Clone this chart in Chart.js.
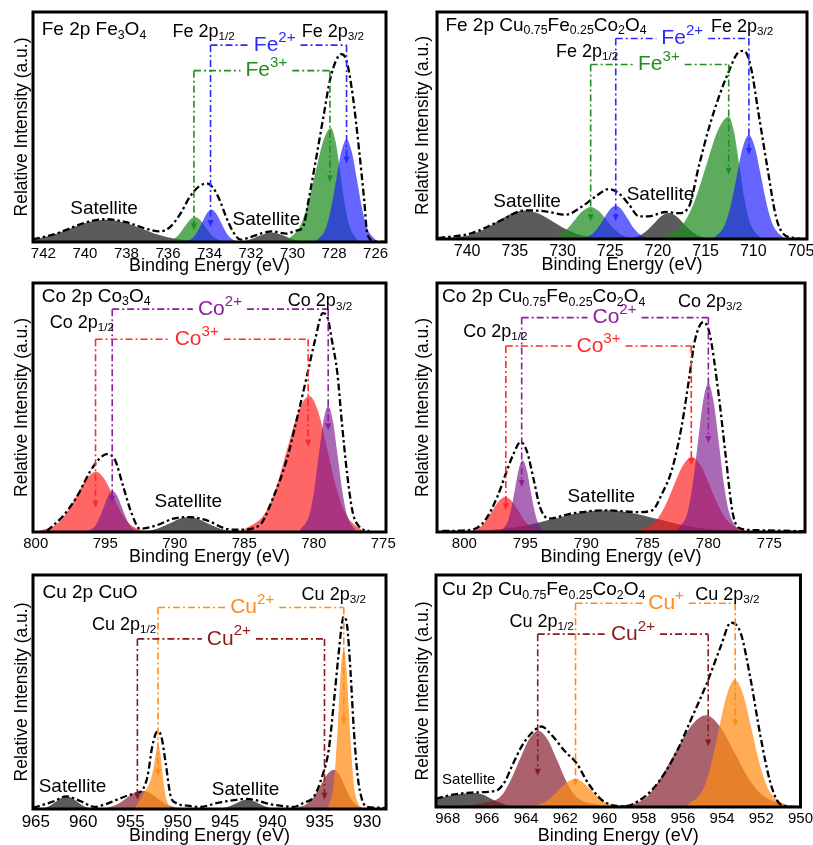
<!DOCTYPE html>
<html lang="en">
<head>
<meta charset="UTF-8" />
<title>XPS Fe 2p / Co 2p / Cu 2p</title>
<script src="https://cdn.jsdelivr.net/npm/chart.js@4.4.0/dist/chart.umd.min.js"></script>
<style>
  html, body { margin: 0; padding: 0; background: #fff; overflow: hidden; }
  body { width: 813px; height: 845px; position: relative; }
  canvas { position: absolute; }
</style>
</head>
<body>
<script>
// ---- Fe 2p, Fe3O4 ----
const fe3o4SatAE = [744.1, 742.4, 741.55, 740.7, 739.85, 739.0, 738.15, 737.3, 736.45, 735.6, 733.9];
const fe3o4SatAI = [0, 1.3, 3.15, 5.9, 8.55, 9.7, 8.55, 5.9, 3.15, 1.3, 0];
const fe3o4Fe3AE = [736.2, 735.7, 735.45, 735.2, 734.95, 734.7, 734.45, 734.2, 733.95, 733.7, 733.2];
const fe3o4Fe3AI = [0, 1.5, 3.5, 6.6, 9.6, 10.9, 9.6, 6.6, 3.5, 1.5, 0];
const fe3o4Fe2AE = [735.25, 734.8, 734.58, 734.35, 734.13, 733.9, 733.68, 733.45, 733.23, 733.0, 732.55];
const fe3o4Fe2AI = [0, 1.9, 4.6, 8.6, 12.4, 14.1, 12.4, 8.6, 4.6, 1.9, 0];
const fe3o4SatBE = [732.95, 732.3, 731.98, 731.65, 731.33, 731.0, 730.68, 730.35, 730.03, 729.7, 729.05];
const fe3o4SatBI = [0, 0.55, 1.33, 2.5, 3.6, 4.1, 3.6, 2.5, 1.33, 0.55, 0];
const fe3o4Fe3BE = [730.4, 729.65, 729.28, 728.9, 728.53, 728.15, 727.93, 727.7, 727.48, 727.25, 726.8];
const fe3o4Fe3BI = [0, 6.7, 16.1, 30.1, 43.7, 49.6, 43.7, 30.1, 16.1, 6.7, 0];
const fe3o4Fe2BE = [728.9, 728.4, 728.15, 727.9, 727.65, 727.4, 727.15, 726.9, 726.65, 726.4, 725.9];
const fe3o4Fe2BI = [0, 6.0, 14.5, 27.1, 39.3, 44.6, 39.3, 27.1, 14.5, 6.0, 0];
const fe3o4EnvE = [742.5, 741.5, 740.9, 740.0, 739.0, 738.0, 737.0, 736.4, 735.9, 735.4, 734.95, 734.5, 734.1, 733.8, 733.5, 733.2, 732.9, 732.5, 732.1, 731.4, 731.0, 730.3, 729.8, 729.5, 729.2, 728.86, 728.5, 728.2, 727.9, 727.65, 727.4, 727.1, 726.8, 726.55, 726.4, 726.1, 725.6];
const fe3o4EnvI = [1.2, 3.3, 5.3, 8.4, 9.9, 8.6, 5.6, 4.6, 6.5, 12.3, 19.6, 24.2, 25.4, 23.2, 18, 10.9, 5, 1, 1.9, 4, 4.6, 3.6, 5, 6.5, 19.6, 36.6, 55.2, 70.3, 79, 81.7, 78.8, 63.6, 40.3, 18.1, 3.6, 0.5, 0];

// ---- Fe 2p, Cu0.75Fe0.25Co2O4 ----
const cfFeSatAE = [742.73, 739.8, 738.33, 736.86, 735.39, 733.93, 732.46, 730.99, 729.53, 728.06, 725.13];
const cfFeSatAI = [0.2, 1.7, 4.1, 7.6, 11.1, 12.6, 11.1, 7.6, 4.1, 1.7, 0];
const cfFeFe3AE = [731.91, 730.29, 729.48, 728.67, 727.86, 727.05, 726.24, 725.43, 724.63, 723.82, 722.2];
const cfFeFe3AI = [0, 1.9, 4.6, 8.6, 12.4, 14.1, 12.4, 8.6, 4.6, 1.9, 0];
const cfFeFe2AE = [728.22, 726.95, 726.32, 725.68, 725.05, 724.42, 723.79, 723.16, 722.53, 721.89, 720.63];
const cfFeFe2AI = [0, 2.0, 4.7, 8.9, 12.9, 14.6, 12.9, 8.9, 4.7, 2.0, 0];
const cfFeSatBE = [723.41, 721.9, 721.14, 720.38, 719.62, 718.86, 718.1, 717.34, 716.58, 715.83, 714.31];
const cfFeSatBI = [0, 1.5, 3.7, 6.9, 10.1, 11.4, 10.1, 6.9, 3.7, 1.5, 0];
const cfFeFe3BE = [719.57, 717.24, 716.08, 714.91, 713.75, 712.58, 712.03, 711.47, 710.92, 710.36, 709.25];
const cfFeFe3BI = [0.6, 7.3, 17.5, 32.7, 47.5, 53.9, 47.5, 32.7, 17.5, 7.3, 0.3];
const cfFeFe2BE = [714.26, 712.99, 712.36, 711.73, 711.1, 710.46, 709.84, 709.2, 708.57, 707.94, 706.67];
const cfFeFe2BI = [0, 6.2, 14.9, 27.8, 40.4, 45.8, 40.4, 27.8, 14.9, 6.2, 0];
const cfFeEnvE = [743.03, 739.49, 736.66, 733.93, 731.81, 729.68, 727.96, 726.55, 725.13, 724.12, 723.01, 721.99, 720.98, 719.16, 717.85, 716.74, 715.72, 714.61, 713.6, 712.59, 711.68, 710.97, 710.26, 709.45, 708.54, 707.63, 706.92, 705.61, 704.6];
const cfFeEnvI = [0.4, 2.6, 7.8, 12.6, 12.2, 10.7, 14.3, 18.7, 22.0, 20.2, 15.1, 10, 10, 11.9, 11.4, 14.3, 31.9, 49.5, 62.7, 73.6, 81.7, 82.9, 75.8, 55.3, 31.9, 10, 2.6, 0.4, 0];

// ---- Co 2p, Co3O4 ----
const co3o4Co3AE = [799.86, 798.46, 797.76, 797.06, 796.36, 795.66, 795.06, 794.46, 793.86, 793.26, 792.06];
const co3o4Co3AI = [0.3, 3.3, 7.9, 14.7, 21.3, 24.2, 21.3, 14.7, 7.9, 3.3, 0];
const co3o4Co2AE = [796.41, 795.76, 795.44, 795.11, 794.79, 794.46, 794.14, 793.81, 793.49, 793.16, 792.51];
const co3o4Co2AI = [0, 2.2, 5.4, 10.0, 14.6, 16.5, 14.6, 10.0, 5.4, 2.2, 0];
const co3o4SatE = [792.9, 791.6, 790.95, 790.3, 789.65, 789.0, 788.35, 787.7, 787.05, 786.4, 785.1];
const co3o4SatI = [0, 0.8, 2.0, 3.6, 5.3, 6.0, 5.3, 3.6, 2.0, 0.8, 0];
const co3o4Co3BE = [785.12, 783.52, 782.72, 781.92, 781.12, 780.32, 779.67, 779.02, 778.37, 777.72, 776.42];
const co3o4Co3BI = [0.6, 7.4, 17.7, 33.1, 48.2, 54.6, 48.2, 33.1, 17.7, 7.4, 0];
const co3o4Co2BE = [781.0, 780.32, 779.98, 779.64, 779.3, 778.96, 778.62, 778.28, 777.94, 777.6, 776.92];
const co3o4Co2BI = [0.6, 6.8, 16.4, 30.7, 44.6, 50.6, 44.6, 30.7, 16.4, 6.8, 0];
const co3o4EnvE = [799.2, 798.0, 797.05, 796.1, 795.4, 794.9, 794.3, 793.7, 793.1, 792.5, 791.3, 790.1, 789.0, 787.7, 786.3, 785.3, 783.9, 782.9, 781.95, 781.23, 780.5, 779.9, 779.35, 779.0, 778.7, 778.3, 777.97, 777.6, 777.2, 776.7, 776.0];
const co3o4EnvI = [0.4, 6.7, 14.1, 24.2, 29.5, 31.3, 28.9, 18.1, 7.4, 1.3, 2.7, 5.4, 6.0, 4.7, 1.3, 0.9, 2.7, 14.1, 28.9, 45, 62.4, 77.2, 87.9, 86, 77.2, 63.8, 43.6, 23.5, 8, 2, 0.4];

// ---- Co 2p, Cu0.75Fe0.25Co2O4 ----
const cfCoCo3AE = [799.79, 798.74, 798.22, 797.69, 797.17, 796.64, 796.12, 795.59, 795.07, 794.54, 793.49];
const cfCoCo3AI = [0, 1.9, 4.6, 8.6, 12.4, 14.1, 12.4, 8.6, 4.6, 1.9, 0];
const cfCoCo2AE = [797.08, 796.46, 796.15, 795.84, 795.53, 795.22, 794.91, 794.6, 794.29, 793.98, 793.36];
const cfCoCo2AI = [0.3, 3.9, 9.4, 17.5, 25.4, 28.8, 25.4, 17.5, 9.4, 3.9, 0];
const cfCoSatE = [801.06, 796.86, 794.76, 792.66, 790.56, 788.46, 786.36, 784.26, 782.16, 780.06, 775.86];
const cfCoSatI = [0.1, 1.2, 2.8, 5.3, 7.7, 8.7, 7.7, 5.3, 2.8, 1.2, 0.1];
const cfCoCo3BE = [785.86, 784.36, 783.61, 782.86, 782.11, 781.36, 780.61, 779.86, 779.11, 778.36, 776.86];
const cfCoCo3BI = [0.3, 4.1, 9.8, 18.3, 26.5, 30.1, 26.5, 18.3, 9.8, 4.1, 0.3];
const cfCoCo2BE = [782.55, 781.7, 781.28, 780.85, 780.43, 780.0, 779.58, 779.15, 778.73, 778.3, 777.45];
const cfCoCo2BI = [0.7, 8.0, 19.4, 36.2, 52.6, 59.6, 52.6, 36.2, 19.4, 8.0, 0];
const cfCoEnvE = [801.8, 799.4, 798.3, 797.3, 796.6, 795.96, 795.4, 794.9, 794.3, 793.8, 793.1, 791.2, 788.5, 785.7, 784.6, 783.8, 783.0, 782.2, 781.6, 781.1, 780.4, 779.9, 779.2, 778.6, 778.0, 777.3, 775.9, 772.1];
const cfCoEnvI = [0.4, 0.9, 4.7, 14.1, 23.4, 31.5, 36.1, 32.8, 20.7, 10, 5.4, 7.4, 8.7, 8.0, 8.7, 15.4, 24.8, 42.2, 60.9, 77.0, 84.3, 79.7, 56.9, 31.5, 7.4, 1.3, 0.7, 0.3];

// ---- Cu 2p, CuO ----
const cuoSatAE = [964.91, 963.86, 963.34, 962.81, 962.29, 961.76, 961.24, 960.71, 960.19, 959.66, 958.61];
const cuoSatAI = [0, 0.7, 1.8, 3.3, 4.8, 5.4, 4.8, 3.3, 1.8, 0.7, 0];
const cuoBroadAE = [958.6, 957.0, 956.2, 955.4, 954.6, 953.8, 953.0, 952.2, 951.4, 950.6, 949.0];
const cuoBroadAI = [0.1, 1.05, 2.5, 4.7, 6.9, 7.8, 6.9, 4.7, 2.5, 1.05, 0];
const cuoMainAE = [954.6, 954.2, 953.8, 953.4, 953.0, 952.6, 952.3, 952.09, 951.85, 951.6, 951.35, 951.0, 950.5];
const cuoMainAI = [0, 2.5, 5.5, 8, 11, 17, 24, 27.5, 24, 15, 7, 2, 0];
const cuoSatBE = [946.26, 945.06, 944.46, 943.86, 943.26, 942.66, 942.06, 941.46, 940.86, 940.26, 939.06];
const cuoSatBI = [0, 0.5, 1.3, 2.4, 3.5, 4.0, 3.5, 2.4, 1.3, 0.5, 0];
const cuoBroadBE = [937.7, 936.3, 935.6, 934.9, 934.2, 933.5, 932.95, 932.4, 931.85, 931.3, 930.2];
const cuoBroadBI = [0.2, 2.3, 5.5, 10.2, 14.8, 16.8, 14.8, 10.2, 5.5, 2.3, 0];
const cuoMainBE = [934.11, 933.56, 933.29, 933.01, 932.74, 932.46, 932.19, 931.91, 931.64, 931.36, 930.81];
const cuoMainBI = [0.8, 9.3, 22.3, 41.7, 60.6, 68.7, 60.6, 41.7, 22.3, 9.3, 0.8];
const cuoEnvE = [965.3, 963.1, 961.8, 960.25, 958.8, 957.8, 956.4, 955.0, 953.9, 953.2, 952.7, 952.16, 951.74, 951.28, 950.75, 950.2, 949.0, 947.6, 945.8, 942.7, 939.9, 937.7, 936.8, 935.6, 934.75, 934.05, 933.52, 933.0, 932.65, 932.46, 932.1, 931.76, 931.4, 930.99, 930.53, 930.0, 928.0];
const cuoEnvI = [0.5, 3.3, 5.4, 3.3, 0.9, 1.8, 4.0, 6.1, 7.5, 13.9, 26.7, 33.1, 31.0, 19.6, 5.4, 2.6, 1.4, 0.9, 2.6, 4.3, 1.8, 0.9, 2.5, 5.4, 13.9, 25.3, 45.2, 66.6, 79.4, 82.2, 78, 59.5, 33.9, 13.9, 4.0, 0.9, 0.5];

// ---- Cu 2p, Cu0.75Fe0.25Co2O4 ----
const cfCuSatE = [972.72, 970.69, 969.67, 968.65, 967.63, 966.61, 966.2, 965.79, 965.39, 964.98, 964.16];
const cfCuSatI = [0.1, 0.8, 2.0, 3.6, 5.3, 6.0, 5.3, 3.6, 2.0, 0.8, 0];
const cfCuCu2AE = [967.83, 966.81, 966.1, 965.32, 964.84, 964.35, 963.86, 963.38, 962.9, 962.41, 961.93, 961.44, 960.7, 959.68, 958.66];
const cfCuCu2AI = [0.3, 0.9, 1.8, 4.4, 10.7, 20, 29, 32.9, 29, 20, 10.7, 4.4, 1.5, 0.5, 0];
const cfCuCu1AE = [963.96, 963.15, 962.74, 962.33, 961.92, 961.51, 961.11, 960.7, 960.29, 959.88, 959.07];
const cfCuCu1AI = [0.1, 1.6, 3.9, 7.3, 10.7, 12.1, 10.7, 7.3, 3.9, 1.6, 0.1];
const cfCuCu2BE = [959.42, 957.89, 957.12, 956.36, 955.59, 954.83, 954.12, 953.4, 952.69, 951.98, 950.55];
const cfCuCu2BI = [0.2, 4.0, 12.8, 24, 34.8, 39.5, 34.8, 24, 12.8, 5.3, 0.4];
const cfCuCu1BE = [955.8, 954.98, 954.58, 954.17, 953.76, 953.35, 952.92, 952.49, 952.06, 951.62, 950.75];
const cfCuCu1BI = [0.6, 7.4, 17.8, 33.3, 48.3, 54.8, 48.3, 33.3, 17.8, 7.4, 0.6];
const cfCuEnvE = [968.6, 967.83, 966.81, 965.75, 965.42, 965.08, 964.73, 964.23, 963.72, 963.21, 962.71, 962.02, 961.43, 960.84, 960.16, 959.48, 958.97, 958.29, 957.62, 956.93, 956.27, 955.59, 954.71, 954.07, 953.55, 953.05, 952.54, 952.04, 951.53, 951.1, 950.68, 950.0];
const cfCuEnvI = [3.6, 5.2, 6.2, 6.7, 7.5, 11, 17.5, 26.1, 31.9, 34.7, 31.1, 24, 18.9, 10.3, 3.2, 0.6, 0.3, 2.5, 7, 14.6, 24.7, 37.6, 54.8, 69.2, 79.5, 74.9, 54.8, 30.4, 10.3, 1.7, 0.3, 0];

const FONT = "'Liberation Sans', Arial, sans-serif";
const GRAY = 'rgba(55,55,55,0.82)';
const GREEN = 'rgba(30,140,30,0.72)';
const BLUE = 'rgba(30,30,255,0.68)';
const RED = 'rgba(255,30,30,0.68)';
const PURPLE = 'rgba(125,25,140,0.65)';
const MAROON = 'rgba(130,25,40,0.68)';
const ORANGE = 'rgba(255,140,20,0.72)';

const panels = [
  { frame: [33, 12, 386, 242], yW: 21, xH: 35, xMin: 725.5, xMax: 742.5, step: 2, tick: 15,
    comps: [[fe3o4SatAE, fe3o4SatAI, GRAY], [fe3o4SatBE, fe3o4SatBI, GRAY],
            [fe3o4Fe3AE, fe3o4Fe3AI, GREEN], [fe3o4Fe2AE, fe3o4Fe2AI, BLUE],
            [fe3o4Fe3BE, fe3o4Fe3BI, GREEN], [fe3o4Fe2BE, fe3o4Fe2BI, BLUE]],
    env: [fe3o4EnvE, fe3o4EnvI],
    texts: [
      { s: 'Fe 2p Fe_{3}O_{4}', x: 742.08, y: 92.2, align: 'left' },
      { s: 'Fe 2p_{1/2}', x: 734.28, y: 91.4, size: 18 },
      { s: 'Fe 2p_{3/2}', x: 728.06, y: 91.4, size: 18 },
      { s: 'Satellite', x: 739.08, y: 14.5 },
      { s: 'Satellite', x: 731.26, y: 9.7 }],
    brackets: [
      { color: '#2a2aff', xL: 733.95, xR: 727.4, yTop: 85.6, yL: 6.5, yR: 34, label: 'Fe^{2+}', lx: 730.86 },
      { color: '#1f8f1f', xL: 734.75, xR: 728.2, yTop: 74.5, yL: 5.1, yR: 26, label: 'Fe^{3+}', lx: 731.26 }] },
  { frame: [437, 12, 807, 239], yW: 24, xH: 37, xMin: 704.37, xMax: 743.16, step: 5, tick: 16,
    comps: [[cfFeSatAE, cfFeSatAI, GRAY], [cfFeSatBE, cfFeSatBI, GRAY],
            [cfFeFe3AE, cfFeFe3AI, GREEN], [cfFeFe2AE, cfFeFe2AI, BLUE],
            [cfFeFe3BE, cfFeFe3BI, GREEN], [cfFeFe2BE, cfFeFe2BI, BLUE]],
    env: [cfFeEnvE, cfFeEnvI],
    texts: [
      { s: 'Fe 2p Cu_{0.75}Fe_{0.25}Co_{2}O_{4}', x: 742.28, y: 94.1, align: 'left' },
      { s: 'Fe 2p_{3/2}', x: 711.17, y: 93.4, size: 18 },
      { s: 'Fe 2p_{1/2}', x: 727.42, y: 82.4, size: 18 },
      { s: 'Satellite', x: 733.71, y: 16.5 },
      { s: 'Satellite', x: 719.73, y: 19.5 }],
    brackets: [
      { color: '#2a2aff', xL: 724.42, xR: 710.46, yTop: 88.3, yL: 7.8, yR: 37, label: 'Fe^{2+}', lx: 717.45 },
      { color: '#1f8f1f', xL: 727.05, xR: 712.58, yTop: 76.9, yL: 7.8, yR: 28.3, label: 'Fe^{3+}', lx: 719.9 }] },
  { frame: [33, 283, 386, 532], yW: 21, xH: 36, xMin: 774.8, xMax: 800.2, step: 5, tick: 15,
    comps: [[co3o4SatE, co3o4SatI, GRAY],
            [co3o4Co3AE, co3o4Co3AI, RED], [co3o4Co2AE, co3o4Co2AI, PURPLE],
            [co3o4Co3BE, co3o4Co3BI, RED], [co3o4Co2BE, co3o4Co2BI, PURPLE]],
    env: [co3o4EnvE, co3o4EnvI],
    texts: [
      { s: 'Co 2p Co_{3}O_{4}', x: 799.57, y: 94.6, align: 'left' },
      { s: 'Co 2p_{1/2}', x: 796.69, y: 83.9, size: 18 },
      { s: 'Co 2p_{3/2}', x: 779.55, y: 92.6, size: 18 },
      { s: 'Satellite', x: 789.02, y: 12.1 }],
    brackets: [
      { color: '#8e1e9e', xL: 794.5, xR: 778.96, yTop: 89.5, yL: 11.7, yR: 40.9, label: 'Co^{2+}', lx: 786.75 },
      { color: '#ff2a2a', xL: 795.7, xR: 780.4, yTop: 77.4, yL: 9.7, yR: 34.2, label: 'Co^{3+}', lx: 788.42 }] },
  { frame: [437, 283, 805, 532], yW: 24, xH: 36, xMin: 772.08, xMax: 802.24, step: 5, tick: 15,
    comps: [[cfCoSatE, cfCoSatI, GRAY],
            [cfCoCo3AE, cfCoCo3AI, RED], [cfCoCo2AE, cfCoCo2AI, PURPLE],
            [cfCoCo3BE, cfCoCo3BI, RED], [cfCoCo2BE, cfCoCo2BI, PURPLE]],
    env: [cfCoEnvE, cfCoEnvI],
    texts: [
      { s: 'Co 2p Cu_{0.75}Fe_{0.25}Co_{2}O_{4}', x: 801.83, y: 94.4, align: 'left' },
      { s: 'Co 2p_{1/2}', x: 797.46, y: 80.3, size: 18 },
      { s: 'Co 2p_{3/2}', x: 779.86, y: 92.4, size: 18 },
      { s: 'Satellite', x: 788.78, y: 14.1 }],
    brackets: [
      { color: '#8e1e9e', xL: 795.3, xR: 780.0, yTop: 86.1, yL: 18.1, yR: 35.7, label: 'Co^{2+}', lx: 787.69 },
      { color: '#ff2a2a', xL: 796.6, xR: 781.4, yTop: 74.7, yL: 8.7, yR: 26.8, label: 'Co^{3+}', lx: 789.0 }] },
  { frame: [33, 575, 386, 809], yW: 21, xH: 38, xMin: 928.0, xMax: 965.3, step: 5, tick: 17,
    comps: [[cuoSatAE, cuoSatAI, GRAY], [cuoSatBE, cuoSatBI, GRAY],
            [cuoBroadAE, cuoBroadAI, MAROON], [cuoMainAE, cuoMainAI, ORANGE],
            [cuoBroadBE, cuoBroadBI, MAROON], [cuoMainBE, cuoMainBI, ORANGE]],
    env: [cuoEnvE, cuoEnvI],
    texts: [
      { s: 'Cu 2p CuO', x: 964.3, y: 92.2, align: 'left' },
      { s: 'Cu 2p_{1/2}', x: 955.68, y: 78.7, size: 18 },
      { s: 'Cu 2p_{3/2}', x: 933.52, y: 91.5, size: 18 },
      { s: 'Satellite', x: 961.13, y: 9.7 },
      { s: 'Satellite', x: 942.84, y: 8.3 }],
    brackets: [
      { color: '#ff8c1a', xL: 952.09, xR: 932.46, yTop: 86.1, yL: 13.9, yR: 36, label: 'Cu^{2+}', lx: 942.14 },
      { color: '#8b1a1a', xL: 954.27, xR: 934.5, yTop: 72.7, yL: 4.0, yR: 4.0, label: 'Cu^{2+}', lx: 944.6 }] },
  { frame: [436, 575, 802, 807], yW: 23, xH: 40, xMin: 950, xMax: 968.6, step: 2, tick: 15,
    comps: [[cfCuSatE, cfCuSatI, GRAY],
            [cfCuCu2AE, cfCuCu2AI, MAROON], [cfCuCu1AE, cfCuCu1AI, ORANGE],
            [cfCuCu2BE, cfCuCu2BI, MAROON], [cfCuCu1BE, cfCuCu1BI, ORANGE]],
    env: [cfCuEnvE, cfCuEnvI],
    texts: [
      { s: 'Cu 2p Cu_{0.75}Fe_{0.25}Co_{2}O_{4}', x: 968.29, y: 93.5, align: 'left' },
      { s: 'Cu 2p_{1/2}', x: 963.21, y: 79.9, size: 18 },
      { s: 'Cu 2p_{3/2}', x: 953.73, y: 91.4, size: 18 },
      { s: 'Satellite', x: 966.93, y: 11.5, size: 15 }],
    brackets: [
      { color: '#ff8c1a', xL: 961.48, xR: 953.33, yTop: 87.8, yL: 8.9, yR: 34.7, label: 'Cu^{+}', lx: 956.86 },
      { color: '#8b1a1a', xL: 963.41, xR: 954.71, yTop: 74.5, yL: 13.5, yR: 26.1, label: 'Cu^{2+}', lx: 958.55 }] }
];

// "Fe_{3}O_{4}" -> [["Fe",""],["3","sub"],["O",""],["4","sub"]]
function parseRich(s) {
  const out = [];
  const re = /([_^])\{([^}]*)\}|[^_^]+/g;
  let m;
  while ((m = re.exec(s))) out.push(m[1] ? [m[2], m[1] === '_' ? 'sub' : 'sup'] : [m[0], '']);
  return out;
}

function partSize(k, size) {
  return k === 'sup' ? size * 0.72 : k === 'sub' ? size * 0.65 : size;
}

function richWidth(ctx, parts, size) {
  let w = 0;
  for (const [t, k] of parts) {
    ctx.font = partSize(k, size) + 'px ' + FONT;
    w += ctx.measureText(t).width;
  }
  return w;
}

function drawRich(ctx, parts, x, y, size, color, align) {
  const w = richWidth(ctx, parts, size);
  let cx = align === 'left' ? x : x - w / 2;
  ctx.fillStyle = color;
  ctx.textAlign = 'left';
  ctx.textBaseline = 'middle';
  for (const [t, k] of parts) {
    ctx.font = partSize(k, size) + 'px ' + FONT;
    const dy = k === 'sub' ? size * 0.28 : k === 'sup' ? -size * 0.36 : 0;
    ctx.fillText(t, cx, y + dy);
    cx += ctx.measureText(t).width;
  }
}

function drawBracket(ctx, b, px, py) {
  const xl = px(b.xL), xr = px(b.xR), yt = py(b.yTop), lx = px(b.lx);
  const yl = py(b.yL), yr = py(b.yR);
  const parts = parseRich(b.label), size = 21;
  const w = richWidth(ctx, parts, size);
  const seg = (x1, y1, x2, y2) => { ctx.beginPath(); ctx.moveTo(x1, y1); ctx.lineTo(x2, y2); ctx.stroke(); };
  ctx.save();
  ctx.strokeStyle = b.color;
  ctx.fillStyle = b.color;
  ctx.lineWidth = 1.6;
  ctx.setLineDash([7, 3, 2, 3]);
  seg(xl, yt, lx - w / 2 - 5, yt);
  seg(lx + w / 2 + 5, yt, xr, yt);
  seg(xl, yt, xl, yl - 5);
  seg(xr, yt, xr, yr - 5);
  ctx.setLineDash([]);
  for (const [x, y] of [[xl, yl], [xr, yr]]) {
    ctx.beginPath();
    ctx.moveTo(x - 3, y - 7); ctx.lineTo(x + 3, y - 7); ctx.lineTo(x, y);
    ctx.closePath(); ctx.fill();
  }
  drawRich(ctx, parts, lx, yt, size, b.color, 'center');
  ctx.restore();
}

function decoPlugin(panel) {
  return {
    id: 'deco',
    afterDraw(chart) {
      const ctx = chart.ctx, a = chart.chartArea;
      const px = v => chart.scales.x.getPixelForValue(v);
      const py = v => chart.scales.y.getPixelForValue(v);
      ctx.save();
      ctx.beginPath();
      ctx.rect(a.left, a.top, a.right - a.left, a.bottom - a.top);
      ctx.clip();
      panel.brackets.forEach(b => drawBracket(ctx, b, px, py));
      panel.texts.forEach(t => drawRich(ctx, parseRich(t.s), px(t.x), py(t.y), t.size || 19, '#000', t.align || 'center'));
      ctx.restore();
      ctx.save();
      ctx.strokeStyle = '#000';
      ctx.lineWidth = 3;
      ctx.strokeRect(a.left, a.top, a.right - a.left, a.bottom - a.top);
      ctx.restore();
    }
  };
}

const pts = (e, i) => e.map((v, k) => ({ x: v, y: i[k] }));

panels.forEach(p => {
  const [l, t, r, b] = p.frame;
  const padT = 2, padR = 14;
  const cv = document.createElement('canvas');
  cv.width = (r - l) + p.yW + padR;
  cv.height = (b - t) + padT + p.xH;
  cv.style.left = (l - p.yW) + 'px';
  cv.style.top = (t - padT) + 'px';
  document.body.appendChild(cv);

  const peaks = p.comps.map(([e, i, color]) => ({
    data: pts(e, i), backgroundColor: color, borderColor: 'rgba(0,0,0,0)', borderWidth: 1,
    fill: 'origin', pointRadius: 0, cubicInterpolationMode: 'monotone'
  }));
  const envelope = {
    data: pts(p.env[0], p.env[1]), borderColor: '#000', borderWidth: 2.3, borderDash: [7, 3, 2.5, 3],
    fill: false, pointRadius: 0, cubicInterpolationMode: 'monotone'
  };
  // first dataset is drawn on top
  const datasets = [envelope].concat(peaks.reverse());

  new Chart(cv.getContext('2d'), {
    type: 'line',
    data: { datasets },
    options: {
      responsive: false,
      animation: false,
      events: [],
      layout: { padding: { top: padT, right: padR, left: 0, bottom: 0 } },
      plugins: { legend: { display: false }, tooltip: { enabled: false } },
      scales: {
        x: {
          type: 'linear', reverse: true, min: p.xMin, max: p.xMax,
          ticks: { stepSize: p.step, includeBounds: false, padding: 3, color: '#000', maxRotation: 0, autoSkip: false,
                   font: { family: FONT, size: p.tick } },
          grid: { display: false, drawTicks: false },
          border: { display: false },
          title: { display: true, text: 'Binding Energy (eV)', color: '#000', padding: 0, font: { family: FONT, size: 18 } },
          afterFit: s => { s.height = p.xH; }
        },
        y: {
          min: 0, max: 100,
          ticks: { display: false },
          grid: { display: false, drawTicks: false },
          border: { display: false },
          title: { display: true, text: 'Relative Intensity (a.u.)', color: '#000', padding: 0, font: { family: FONT, size: 17.5 } },
          afterFit: s => { s.width = p.yW; }
        }
      }
    },
    plugins: [decoPlugin(p)]
  });
});
</script>
</body>
</html>
